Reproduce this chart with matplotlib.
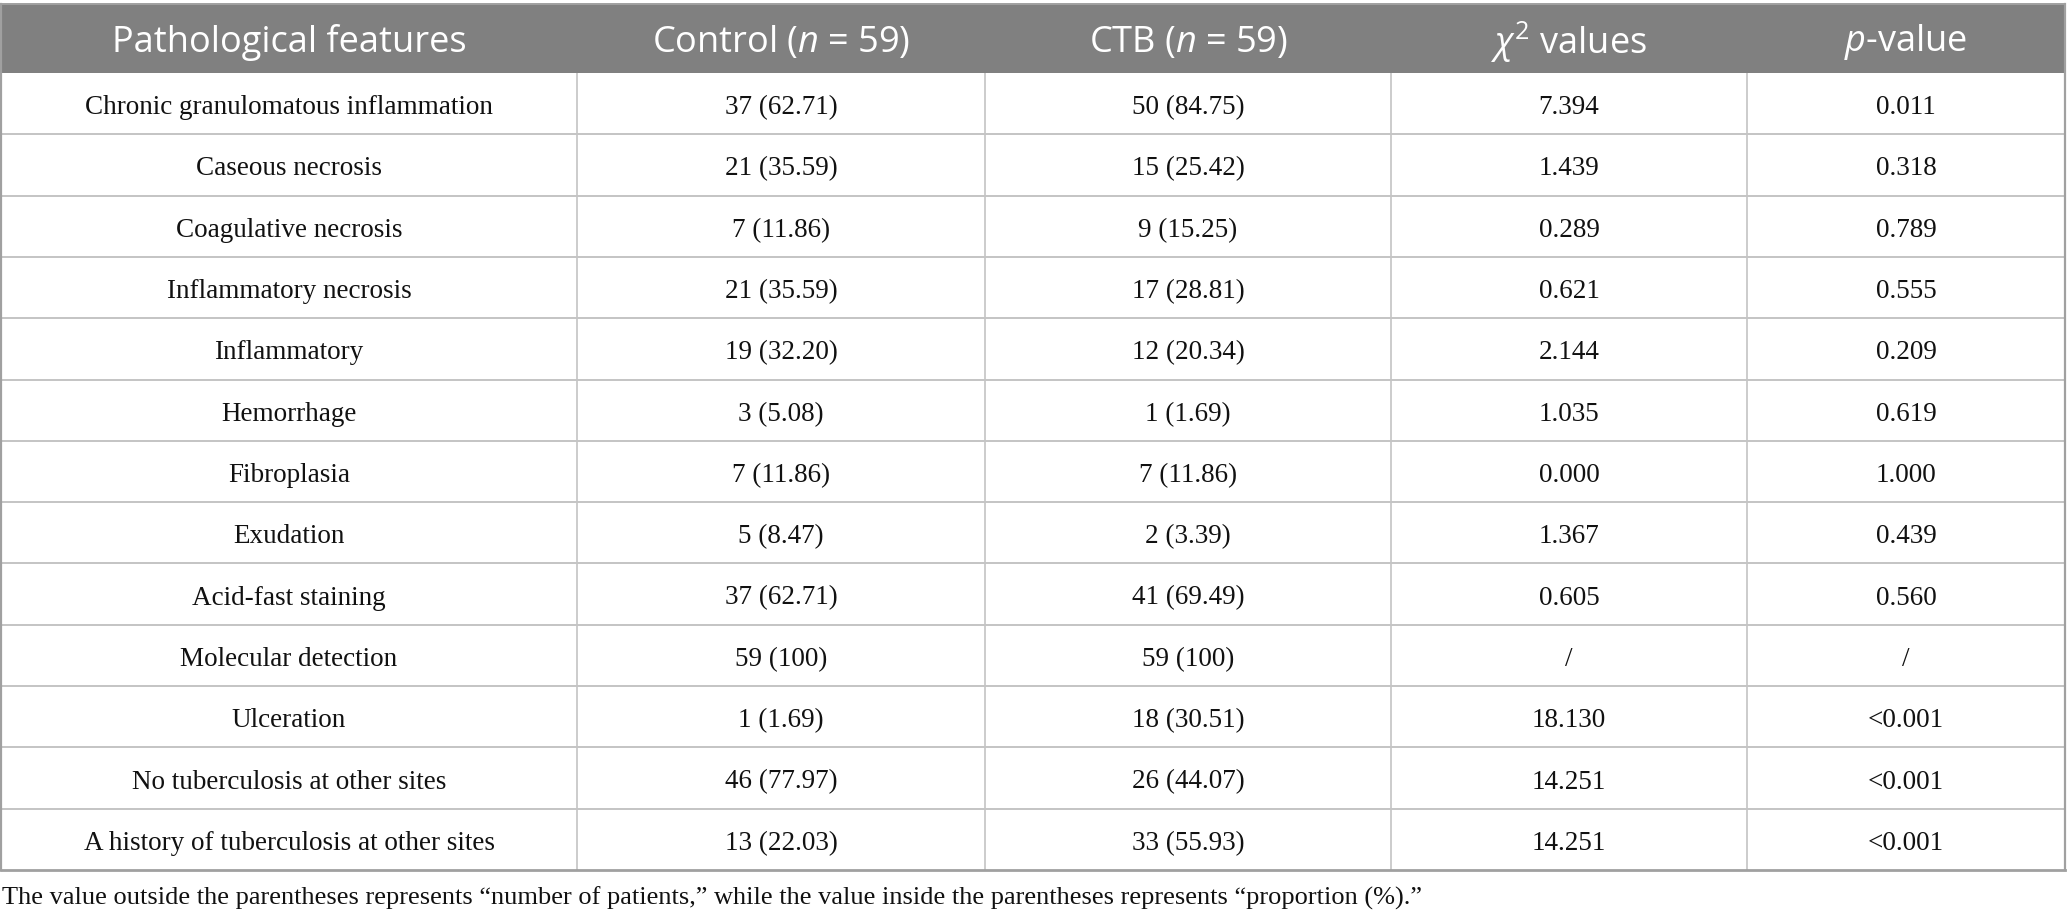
import matplotlib
matplotlib.use('Agg')
import matplotlib.pyplot as plt

# table data
features = ['Chronic granulomatous inflammation', 'Caseous necrosis', 'Coagulative necrosis',
            'Inflammatory necrosis', 'Inflammatory', 'Hemorrhage', 'Fibroplasia', 'Exudation',
            'Acid-fast staining', 'Molecular detection', 'Ulceration',
            'No tuberculosis at other sites', 'A history of tuberculosis at other sites']
control = ['37 (62.71)', '21 (35.59)', '7 (11.86)', '21 (35.59)', '19 (32.20)', '3 (5.08)',
           '7 (11.86)', '5 (8.47)', '37 (62.71)', '59 (100)', '1 (1.69)', '46 (77.97)', '13 (22.03)']
ctb = ['50 (84.75)', '15 (25.42)', '9 (15.25)', '17 (28.81)', '12 (20.34)', '1 (1.69)',
       '7 (11.86)', '2 (3.39)', '41 (69.49)', '59 (100)', '18 (30.51)', '26 (44.07)', '33 (55.93)']
chi2 = ['7.394', '1.439', '0.289', '0.621', '2.144', '1.035', '0.000', '1.367', '0.605', '/',
        '18.130', '14.251', '14.251']
pvalue = ['0.011', '0.318', '0.789', '0.555', '0.209', '0.619', '1.000', '0.439', '0.560', '/',
          '<0.001', '<0.001', '<0.001']
headers = ['Pathological features', 'Control ($\\mathit{n}$ = 59)', 'CTB ($\\mathit{n}$ = 59)',
           '$\\mathit{\\chi}^2$ values', '$\\mathit{p}$-value']
footnote = ('The value outside the parentheses represents \u201cnumber of patients,\u201d '
            'while the value inside the parentheses represents \u201cproportion (%).\u201d')

plt.rcParams['mathtext.fontset'] = 'custom'
plt.rcParams['mathtext.rm'] = 'Open Sans'
plt.rcParams['mathtext.it'] = 'Open Sans:italic'
plt.rcParams['mathtext.bf'] = 'Open Sans:bold'

W, H = 2067, 923
fig = plt.figure(figsize=(W / 100, H / 100), dpi=100)
ax = fig.add_axes([0, 0, 1, 1])
ax.set_xlim(0, W)
ax.set_ylim(H, 0)
ax.axis('off')

col_edges = [1, 577, 985, 1391, 1747, 2065]
head_top, head_bot = 4, 73
row_h = (870 - head_bot) / len(features)
line_c = '#c4c4c4'
edge_c = '#a0a0a0'

# header band
ax.fill_between([col_edges[0], col_edges[-1]], head_top, head_bot, color='#808080', lw=0)
for i, h in enumerate(headers):
    xc = (col_edges[i] + col_edges[i + 1]) / 2
    ax.text(xc, (head_top + head_bot) / 2 + 4, h, ha='center', va='center', color='white',
            fontsize=26, family='Open Sans')

# body
columns = [features, control, ctb, chi2, pvalue]
for r in range(len(features)):
    yc = head_bot + (r + 0.5) * row_h + 4
    for i, col in enumerate(columns):
        xc = (col_edges[i] + col_edges[i + 1]) / 2
        ax.text(xc, yc, col[r], ha='center', va='center', color='#111111',
                fontsize=19.5, family='Liberation Serif')

# grid lines
bottom = head_bot + len(features) * row_h
for r in range(1, len(features) + 1):
    y = head_bot + r * row_h
    ax.plot([col_edges[0], col_edges[-1]], [y, y], color=line_c if r < len(features) else edge_c,
            lw=1.4 if r < len(features) else 2)
for i, x in enumerate(col_edges):
    outer = i in (0, len(col_edges) - 1)
    ax.plot([x, x], [head_top, bottom], color=edge_c if outer else line_c,
            lw=1.6 if outer else 1.2, zorder=2 if outer else 0)
ax.plot([col_edges[0], col_edges[-1]], [head_top, head_top], color=edge_c, lw=1.4)

ax.text(2, bottom + 28, footnote, ha='left', va='center', color='#111111',
        fontsize=19, family='Liberation Serif')

fig.savefig('out.png', dpi=100)
